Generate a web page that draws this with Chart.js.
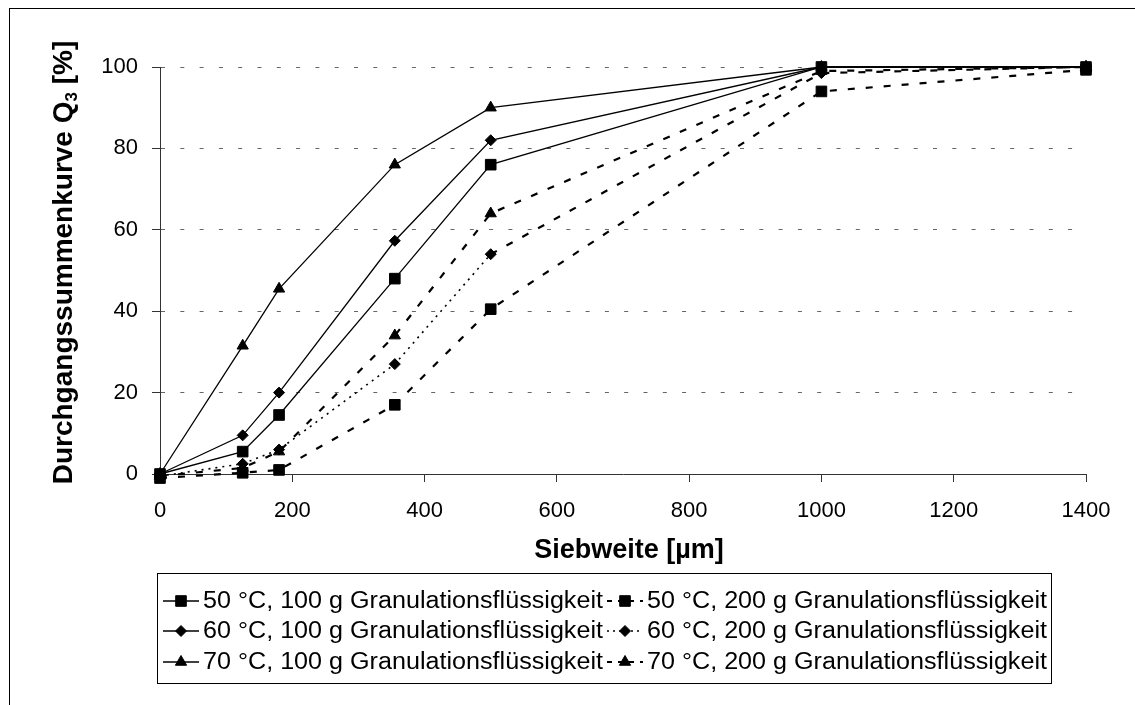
<!DOCTYPE html>
<html>
<head>
<meta charset="utf-8">
<script src="https://cdn.jsdelivr.net/npm/chart.js@4/dist/chart.umd.min.js"></script>
<style>
  body { margin: 0; background: #fff; }
  canvas { display: block; }
</style>
</head>
<body>
<canvas id="siebChart" width="1135" height="705"></canvas>
<script>
/* ---------- DATA ---------- */
const siebweite = [0, 125, 180, 355, 500, 1000, 1400];

const q50_100 = [0, 5.5, 14.5, 48, 76, 100, 100];
const q50_200 = [-1, 0.3, 1, 17, 40.5, 94, 99.3];
const q60_100 = [0, 9.5, 20, 57.3, 82, 100, 100];
const q60_200 = [-0.5, 2.5, 6, 27, 54, 98.5, 100];
const q70_100 = [0, 31.5, 45.5, 76, 90, 100, 100];
const q70_200 = [-0.5, 1.5, 5.5, 34, 64, 99, 100];

const seriesLabels = [
  "50 °C, 100 g Granulationsflüssigkeit",
  "50 °C, 200 g Granulationsflüssigkeit",
  "60 °C, 100 g Granulationsflüssigkeit",
  "60 °C, 200 g Granulationsflüssigkeit",
  "70 °C, 100 g Granulationsflüssigkeit",
  "70 °C, 200 g Granulationsflüssigkeit"
];
const seriesValues = [q50_100, q50_200, q60_100, q60_200, q70_100, q70_200];

const xTicks = [0, 200, 400, 600, 800, 1000, 1200, 1400];
const yTicks = [0, 20, 40, 60, 80, 100];

/* ---------- STYLES ---------- */
const FONT = "'Liberation Sans', Arial, sans-serif";
const SOLID = [];
const DASHED = [7, 11];
const DOTTED = [2, 5];

const markers = ["rect", "rect", "rectRot", "rectRot", "triangle", "triangle"];
const radii = [7.5, 7.5, 5.5, 5.5, 6.5, 6.5];
const dashes = [SOLID, DASHED, SOLID, DOTTED, SOLID, DASHED];
const widths = [1.3, 2.2, 1.3, 1.6, 1.3, 2.2];

function toPoints(values) {
  return siebweite.map(function (x, i) { return { x: x, y: values[i] }; });
}

const datasets = seriesValues.map(function (values, i) {
  const ds = {
    label: seriesLabels[i],
    data: toPoints(values),
    borderColor: "#000",
    backgroundColor: "#000",
    borderWidth: widths[i],
    borderDash: dashes[i],
    pointStyle: markers[i],
    pointRadius: radii[i],
    pointBorderWidth: 1,
    pointBackgroundColor: "#000",
    pointBorderColor: "#000",
    tension: 0,
    clip: false
  };
  // 60 °C / 200 g: dotted up to 500 µm, dashed afterwards
  if (i === 3) {
    ds.segment = {
      borderDash: function (ctx) { return ctx.p0.parsed.x >= 500 ? DASHED : DOTTED; },
      borderWidth: function (ctx) { return ctx.p0.parsed.x >= 500 ? 2.2 : 1.6; }
    };
  }
  return ds;
});

/* ---------- CHART AREA ---------- */
const AREA = { left: 160, right: 1086, top: 67, bottom: 474 };

function drawMarker(ctx, style, r, x, y) {
  ctx.beginPath();
  if (style === "rect") {
    const s = r * Math.SQRT1_2;
    ctx.rect(x - s, y - s, 2 * s, 2 * s);
  } else if (style === "rectRot") {
    ctx.moveTo(x, y - r); ctx.lineTo(x + r, y); ctx.lineTo(x, y + r); ctx.lineTo(x - r, y);
    ctx.closePath();
  } else {
    const h = r * 1.5, w = r * Math.sqrt(3) / 2;
    ctx.moveTo(x, y - r); ctx.lineTo(x + w, y - r + h); ctx.lineTo(x - w, y - r + h);
    ctx.closePath();
  }
  ctx.fill();
  ctx.stroke();
}

const decorPlugin = {
  id: "decor",
  afterDraw: function (chart) {
    const ctx = chart.ctx;
    ctx.save();

    // outer frame
    ctx.strokeStyle = "#000";
    ctx.lineWidth = 1;
    ctx.setLineDash([]);
    ctx.strokeRect(9.5, 8.5, 1400, 1000);

    // x title
    ctx.fillStyle = "#000";
    ctx.font = "bold 27px " + FONT;
    ctx.textAlign = "center";
    ctx.textBaseline = "middle";
    ctx.fillText("Siebweite [µm]", (AREA.left + AREA.right) / 2 + 6, 551);

    // y title with subscript
    ctx.save();
    ctx.translate(62, (AREA.top + AREA.bottom) / 2 - 8);
    ctx.rotate(-Math.PI / 2);
    const p1 = "Durchgangssummenkurve Q", p2 = "3", p3 = " [%]";
    ctx.font = "bold 28px " + FONT;
    const w1 = ctx.measureText(p1).width, w3 = ctx.measureText(p3).width;
    ctx.font = "bold 17px " + FONT;
    const w2 = ctx.measureText(p2).width;
    let x0 = -(w1 + w2 + w3) / 2;
    ctx.textAlign = "left";
    ctx.textBaseline = "alphabetic";
    ctx.font = "bold 28px " + FONT;
    ctx.fillText(p1, x0, 10);
    ctx.font = "bold 17px " + FONT;
    ctx.fillText(p2, x0 + w1, 15);
    ctx.font = "bold 28px " + FONT;
    ctx.fillText(p3, x0 + w1 + w2, 10);
    ctx.restore();

    // legend
    const box = { left: 157.5, top: 573.5, right: 1051.5, bottom: 683.5 };
    ctx.lineWidth = 1;
    ctx.strokeRect(box.left, box.top, box.right - box.left, box.bottom - box.top);
    const rowY = [601, 631, 662];
    const colX = [163, 607];
    const sampleLen = 36;
    const textWidth = 400;
    ctx.font = "23px " + FONT;
    ctx.textAlign = "left";
    ctx.textBaseline = "middle";
    chart.data.datasets.forEach(function (ds, i) {
      const y = rowY[Math.floor(i / 2)];
      const x = colX[i % 2];
      ctx.strokeStyle = "#000";
      ctx.fillStyle = "#000";
      ctx.lineWidth = widths[i];
      ctx.setLineDash(i === 1 || i === 5 ? [5, 6] : (i === 3 ? [2, 4] : []));
      ctx.beginPath();
      ctx.moveTo(x, y);
      ctx.lineTo(x + sampleLen, y);
      ctx.stroke();
      ctx.setLineDash([]);
      ctx.lineWidth = 1;
      drawMarker(ctx, markers[i], radii[i], x + sampleLen / 2, y);
      const tw = ctx.measureText(ds.label).width;
      ctx.save();
      ctx.translate(x + sampleLen + 4, y + 1);
      ctx.scale(textWidth / tw, 1);
      ctx.fillText(ds.label, 0, 0);
      ctx.restore();
    });

    ctx.restore();
  }
};

new Chart(document.getElementById("siebChart").getContext("2d"), {
  type: "line",
  data: { datasets: datasets },
  options: {
    responsive: false,
    animation: false,
    devicePixelRatio: 1,
    layout: { padding: { left: 0, right: 1135 - AREA.right, top: AREA.top, bottom: 0 } },
    plugins: {
      legend: { display: false },
      tooltip: { enabled: false }
    },
    scales: {
      x: {
        type: "linear",
        min: xTicks[0],
        max: xTicks[xTicks.length - 1],
        afterBuildTicks: function (scale) { scale.ticks = xTicks.map(function (v) { return { value: v }; }); },
        afterFit: function (scale) { scale.height = 705 - AREA.bottom; },
        ticks: {
          color: "#000", font: { family: FONT, size: 22 }, padding: 16, maxRotation: 0,
          callback: function (v) { return String(v); }
        },
        grid: { drawOnChartArea: false, drawTicks: true, tickLength: 8, tickColor: "#333", tickWidth: 1 },
        border: { color: "#333", width: 1 }
      },
      y: {
        min: yTicks[0],
        max: yTicks[yTicks.length - 1],
        afterBuildTicks: function (scale) { scale.ticks = yTicks.map(function (v) { return { value: v }; }); },
        afterFit: function (scale) { scale.width = AREA.left; },
        ticks: {
          color: "#000", font: { family: FONT, size: 22 }, padding: 14,
          callback: function (v) { return String(v); }
        },
        grid: { color: "#666", lineWidth: 1, drawTicks: true, tickLength: 8, tickColor: "#333", tickWidth: 1 },
        border: { color: "#333", width: 1, dash: [4, 15.3] }
      }
    }
  },
  plugins: [decorPlugin]
});
</script>
</body>
</html>
